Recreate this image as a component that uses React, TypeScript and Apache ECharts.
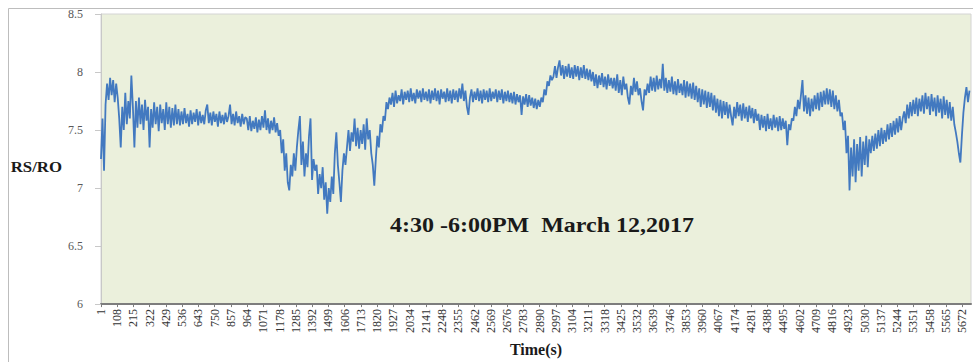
import React, { useEffect, useRef } from "react";
import * as echarts from "echarts";

// Sampling of the RS/RO trace (seconds between read points)
const SAMPLE_STEP_S = 10;
const X_TICK_STEP = 107;
const X_MAX = 5730;
const Y_MIN = 6;
const Y_MAX = 8.5;
const Y_STEP = 0.5;

const TITLE = "4:30 -6:00PM  March 12,2017";
const Y_NAME = "RS/RO";
const X_NAME = "Time(s)";

// RS/RO readings (every 10 s)
const rsRoA = [7.25, 7.6, 7.15, 7.72, 7.9, 7.76, 7.95, 7.8, 7.93, 7.74, 7.9, 7.78, 7.6, 7.35, 7.7, 7.5, 7.82, 7.55, 7.75, 7.6, 7.97, 7.7, 7.35];
const rsRoB = [7.75, 7.52, 7.78, 7.55, 7.72, 7.5, 7.76, 7.58, 7.7, 7.35, 7.68, 7.52, 7.74, 7.55, 7.7, 7.49, 7.72, 7.56, 7.68, 7.5, 7.74, 7.55, 7.7, 7.52, 7.69, 7.54, 7.72, 7.55];
const rsRoC = [7.68, 7.54, 7.66, 7.55, 7.69, 7.56, 7.64, 7.53, 7.67, 7.55,
  7.65, 7.57, 7.68, 7.54, 7.66, 7.56, 7.63, 7.55, 7.67, 7.72,
  7.56, 7.65, 7.54, 7.66, 7.57, 7.64, 7.53, 7.66, 7.56, 7.63,
  7.55, 7.65, 7.57, 7.62, 7.72, 7.55, 7.64, 7.54, 7.66, 7.56,
  7.62, 7.53, 7.64, 7.55, 7.61];
const rsRoD = [7.6, 7.5, 7.62, 7.49, 7.58, 7.51, 7.61, 7.48, 7.59, 7.5, 7.62, 7.52, 7.67, 7.5, 7.6, 7.47, 7.58, 7.5, 7.61, 7.48, 7.56, 7.45];
const rsRoE = [7.5, 7.3, 7.42, 7.15, 7.3, 7.05, 6.98, 7.2, 7.1, 7.3, 7.15];
const rsRoF = [7.35, 7.5, 7.62, 7.2, 7.4, 7.1, 7.3, 7.18, 7.45, 7.6, 7.07, 7.25, 7.15];
const rsRoG = [7.2, 6.95, 7.12, 7.0, 7.18, 6.9, 7.05, 6.78, 7.0, 6.88, 7.1, 6.95];
const rsRoH = [7.3, 7.48, 7.2, 7.05, 6.88, 7.15, 7.3, 7.2];
const rsRoI = [7.35, 7.5, 7.32, 7.48, 7.4, 7.6, 7.36, 7.52, 7.34, 7.5, 7.38, 7.55, 7.33, 7.6, 7.42, 7.5, 7.3];
const rsRoJ = [7.2, 7.02, 7.25, 7.45, 7.35, 7.55, 7.48, 7.62, 7.58, 7.74, 7.68, 7.78];
const rsRoK = [7.72, 7.82, 7.7, 7.84, 7.73, 7.8, 7.75, 7.85, 7.72, 7.83,
  7.76, 7.84, 7.74, 7.86, 7.75, 7.82, 7.73, 7.85, 7.77, 7.84,
  7.74, 7.86, 7.76, 7.83, 7.75, 7.85, 7.73, 7.84, 7.76, 7.86,
  7.75, 7.84, 7.72, 7.85, 7.77, 7.83, 7.74, 7.86, 7.75, 7.84,
  7.73, 7.85, 7.76, 7.84, 7.74, 7.86, 7.77, 7.9, 7.75, 7.84,
  7.7, 7.63, 7.78, 7.85, 7.74, 7.83, 7.76, 7.86, 7.75, 7.84,
  7.73, 7.85, 7.76, 7.84, 7.74, 7.86, 7.75, 7.83, 7.77, 7.85,
  7.74, 7.84, 7.76, 7.85, 7.73, 7.83, 7.75, 7.84, 7.74, 7.82,
  7.73, 7.83, 7.72, 7.81, 7.74, 7.8, 7.63, 7.79, 7.72, 7.81,
  7.7, 7.8, 7.71, 7.78, 7.69, 7.77];
const rsRoL = [7.68, 7.76, 7.7, 7.78, 7.74, 7.85, 7.8, 7.92, 7.88, 7.97, 7.93];
const rsRoM = [7.96, 8.05, 7.95, 8.04, 8.1, 7.97, 8.06, 7.94, 8.05, 7.96, 8.07, 7.95, 8.04, 7.94, 8.06, 7.96, 8.05, 7.93, 8.04, 7.95, 8.06, 7.94, 8.03, 7.93, 8.02, 7.92];
const rsRoN = [8.0, 7.88, 7.98, 7.86, 7.97, 7.89, 7.99, 7.87, 7.96, 7.85, 7.98, 7.88, 7.95, 7.86];
const rsRoO = [7.95, 7.84, 7.98, 7.82, 7.93, 7.8, 7.96, 7.85, 7.9, 7.78, 7.72, 7.88, 7.8, 7.95, 7.83, 7.92, 7.8, 7.86, 7.75, 7.67, 7.85, 7.8];
const rsRoP = [7.9, 7.82, 7.96, 7.84, 7.95, 7.83, 7.97, 7.85, 7.94, 7.86, 8.07, 7.84, 7.95, 7.82, 7.93, 7.83, 7.96, 7.81, 7.92, 7.8, 7.94, 7.82, 7.9];
const rsRoQ = [7.8, 7.93, 7.78, 7.92, 7.79, 7.9, 7.77, 7.91, 7.76, 7.88];
const rsRoR = [7.74, 7.86, 7.7, 7.85, 7.72, 7.84, 7.69, 7.83, 7.7, 7.82, 7.67, 7.8];
const rsRoS = [7.65, 7.77, 7.62, 7.76, 7.6, 7.75, 7.63, 7.74, 7.6, 7.72, 7.62, 7.54, 7.7, 7.6, 7.74, 7.62, 7.72, 7.58, 7.73, 7.6, 7.7, 7.57, 7.71, 7.6, 7.69, 7.56, 7.68, 7.58];
const rsRoT = [7.64, 7.5, 7.63, 7.52, 7.62, 7.49, 7.64, 7.51, 7.6, 7.5, 7.63, 7.52, 7.61, 7.49, 7.62, 7.5, 7.6, 7.51, 7.58, 7.37, 7.55, 7.5, 7.6];
const rsRoU = [7.58, 7.7, 7.62, 7.76, 7.68, 7.8, 7.93, 7.66, 7.8, 7.64, 7.78, 7.62, 7.77, 7.66, 7.8, 7.68, 7.82, 7.67, 7.83, 7.7, 7.84, 7.72];
const rsRoV = [7.86, 7.72, 7.85, 7.7, 7.84, 7.68, 7.8, 7.66, 7.76, 7.62];
const rsRoW = [7.65, 7.5, 7.58, 7.3, 7.45, 6.98, 7.35, 7.1, 7.42, 7.05, 7.38, 7.15, 7.44, 7.1, 7.4, 7.2, 7.45, 7.18, 7.42];
const rsRoX = [7.3, 7.45, 7.32, 7.47, 7.34, 7.5, 7.36, 7.52, 7.38, 7.5, 7.4, 7.55, 7.42, 7.56, 7.44, 7.58, 7.46, 7.6, 7.48, 7.62, 7.5, 7.6];
const rsRoY = [7.66, 7.56, 7.72, 7.6, 7.74, 7.62, 7.76, 7.64, 7.78, 7.62, 7.77];
const rsRoZ = [7.66, 7.8, 7.64, 7.82, 7.68, 7.79, 7.63, 7.81, 7.66, 7.78, 7.62, 7.8, 7.65, 7.77, 7.6, 7.79, 7.63, 7.76, 7.6, 7.74, 7.58, 7.7];
const rsRoEnd = [7.55, 7.48, 7.4, 7.3, 7.22, 7.45, 7.65, 7.78, 7.87, 7.74, 7.84];

const rsRo = [
  ...rsRoA, ...rsRoB, ...rsRoC, ...rsRoD, ...rsRoE, ...rsRoF, ...rsRoG, ...rsRoH, ...rsRoI, ...rsRoJ,
  ...rsRoK, ...rsRoL, ...rsRoM, ...rsRoN, ...rsRoO, ...rsRoP, ...rsRoQ, ...rsRoR, ...rsRoS, ...rsRoT,
  ...rsRoU, ...rsRoV, ...rsRoW, ...rsRoX, ...rsRoY, ...rsRoZ, ...rsRoEnd,
];

const SERIF = "'Liberation Serif', 'Times New Roman', serif";

export default function App() {
  const ref = useRef<HTMLDivElement>(null);
  useEffect(() => {
    if (!ref.current) return;
    const chart = echarts.init(ref.current, null, { renderer: "svg" });
    const data = rsRo.map((v, i) => [i * SAMPLE_STEP_S, v]);
    chart.setOption({
      animation: false,
      backgroundColor: "#ffffff",
      grid: {
        left: 101,
        right: 2,
        top: 14,
        bottom: 50,
        show: true,
        backgroundColor: "#EBF0DC",
        borderColor: "#d4d4d4",
        borderWidth: 1,
      },
      xAxis: {
        type: "value",
        min: 0,
        max: X_MAX,
        interval: X_TICK_STEP,
        name: X_NAME,
        nameLocation: "middle",
        nameGap: 34,
        nameTextStyle: { fontFamily: SERIF, fontWeight: "bold", fontSize: 16, color: "#1a1a1a" },
        axisLine: { show: true, lineStyle: { color: "#7d7d7d", width: 2 } },
        axisTick: { show: true, length: 3, lineStyle: { color: "#7d7d7d" } },
        splitLine: { show: false },
        axisLabel: {
          rotate: 90,
          margin: 5,
          fontFamily: SERIF,
          fontSize: 12,
          color: "#333333",
          showMaxLabel: false,
          formatter: (v: number) => (Math.round(v) % X_TICK_STEP === 0 ? String(Math.round(v) + 1) : ""),
        },
      },
      yAxis: {
        type: "value",
        min: Y_MIN,
        max: Y_MAX,
        interval: Y_STEP,
        axisLine: { show: true, lineStyle: { color: "#c8c8c8" } },
        axisTick: { show: true, length: 6, lineStyle: { color: "#c8c8c8" } },
        splitLine: { show: false },
        axisLabel: { margin: 18, fontFamily: SERIF, fontSize: 12, color: "#595959" },
      },
      graphic: [
        {
          type: "rect",
          silent: true,
          z: -10,
          shape: { x: 8.5, y: 8.5, width: 990, height: 380 },
          style: { fill: "none", stroke: "#bdbdbd", lineWidth: 1 },
        },
        {
          type: "text",
          x: 62,
          y: 167,
          scaleX: 1.2,
          style: {
            text: Y_NAME,
            font: `bold 14px ${SERIF}`,
            fill: "#1a1a1a",
            textAlign: "right",
            textVerticalAlign: "middle",
          },
        },
        {
          type: "text",
          x: 390,
          y: 225,
          scaleX: 1.2,
          style: {
            text: TITLE,
            font: `bold 20px ${SERIF}`,
            fill: "#1a1a1a",
            textAlign: "left",
            textVerticalAlign: "middle",
          },
        },
      ],
      series: [
        {
          type: "line",
          data,
          showSymbol: false,
          symbol: "none",
          lineStyle: { color: "#4279C0", width: 1.8 },
          z: 3,
        },
      ],
    });
    return () => chart.dispose();
  }, []);
  return <div ref={ref} style={{ position: "absolute", left: 0, top: 0, width: 973, height: 362 }} />;
}
